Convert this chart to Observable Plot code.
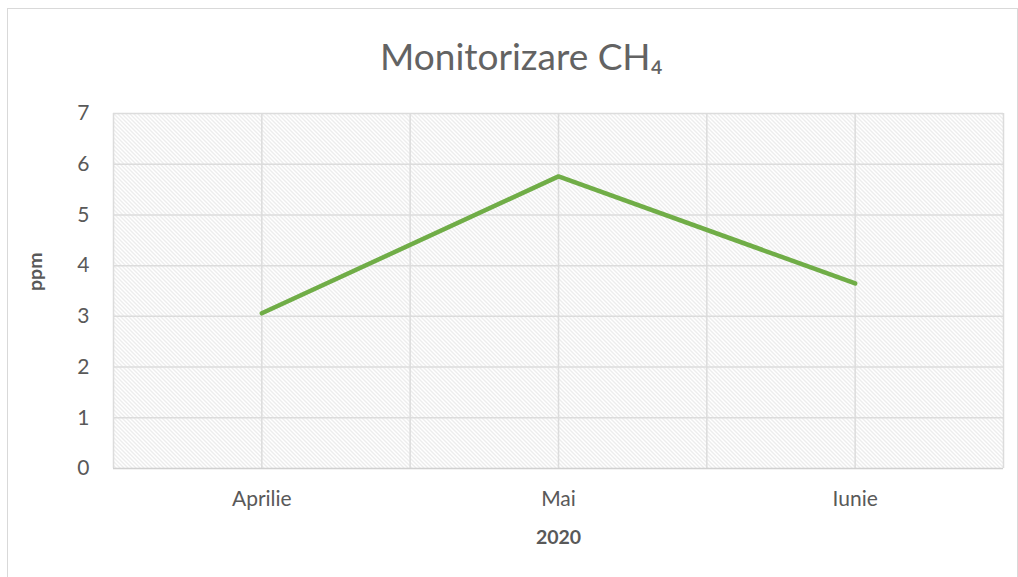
<!DOCTYPE html>
<html>
<head>
<meta charset="utf-8">
<script src="https://cdn.jsdelivr.net/npm/d3@7"></script>
<script src="https://cdn.jsdelivr.net/npm/@observablehq/plot@0.6"></script>
<style>
  html, body { margin: 0; padding: 0; background: #fff; }
  #chart { position: relative; width: 1018px; height: 577px; }
  #chart svg { display: block; }
</style>
</head>
<body>
<div id="chart"></div>
<script>
const months = ["Aprilie", "Mai", "Iunie"];
const values = [3.06, 5.76, 3.65];
const yTicks = [0, 1, 2, 3, 4, 5, 6, 7];
const titleText = "Monitorizare CH\u2084";
const xLabel = "2020";
const yLabel = "ppm";

const data = months.map((m, i) => ({month: m, i, value: values[i]}));
const gridX = d3.range(-0.5, months.length, 0.5);
const textColor = "#595959";
const font = "Lato, 'Open Sans', sans-serif";

const plot = Plot.plot({
  width: 1018,
  height: 577,
  marginLeft: 113,
  marginRight: 15,
  marginTop: 113,
  marginBottom: 109,
  style: {fontFamily: font, color: textColor, background: "#fff", overflow: "visible"},
  x: {type: "linear", domain: [-0.5, months.length - 0.5]},
  y: {domain: [0, 7]},
  marks: [
    Plot.frame({fill: "url(#hatch)", stroke: "none"}),
    Plot.ruleX(gridX, {stroke: "#dcdcdc", strokeWidth: 1.5}),
    Plot.ruleY(yTicks.filter(d => d > 0), {stroke: "#dcdcdc", strokeWidth: 1.5}),
    Plot.ruleY([0], {stroke: "#d0d0d0", strokeWidth: 1.5}),
    Plot.axisY({ticks: yTicks, tickFormat: d3.format("d"), tickSize: 0, tickPadding: 24, fontSize: 21, label: null, fill: textColor}),
    Plot.axisX({ticks: months.map((_, i) => i), tickFormat: i => months[i], tickSize: 0, tickPadding: 23, fontSize: 21, label: null, fill: textColor}),
    Plot.lineY(data, {x: "i", y: "value", stroke: "#70ad47", strokeWidth: 4.5, strokeLinecap: "round", strokeLinejoin: "round"}),
    Plot.text([titleText], {frameAnchor: "top", dx: -37, dy: -70, fontSize: 37, fill: "#636363", text: d => d}),
    Plot.text([xLabel], {frameAnchor: "bottom", dy: 75, fontSize: 19.5, fontWeight: "bold", fill: textColor, text: d => d}),
    Plot.text([yLabel], {frameAnchor: "left", dx: -78, rotate: -90, fontSize: 19.5, fontWeight: "bold", fill: textColor, text: d => d})
  ]
});

const svg = d3.select(plot);
const defs = svg.insert("defs", ":first-child");
const pat = defs.append("pattern")
  .attr("id", "hatch")
  .attr("patternUnits", "userSpaceOnUse")
  .attr("width", 4).attr("height", 4);
pat.append("rect").attr("width", 4).attr("height", 4).attr("fill", "#ffffff");
pat.append("path").attr("d", "M-1,-1 L5,5 M-1,3 L1,5 M3,-1 L5,1")
  .attr("stroke", "#d6d6d6").attr("stroke-width", 0.9);
svg.insert("rect", "defs + *")
  .attr("x", 7.5).attr("y", 8.5).attr("width", 1010).attr("height", 580)
  .attr("fill", "none").attr("stroke", "#d9d9d9").attr("stroke-width", 1);

document.getElementById("chart").appendChild(plot);
</script>
</body>
</html>
